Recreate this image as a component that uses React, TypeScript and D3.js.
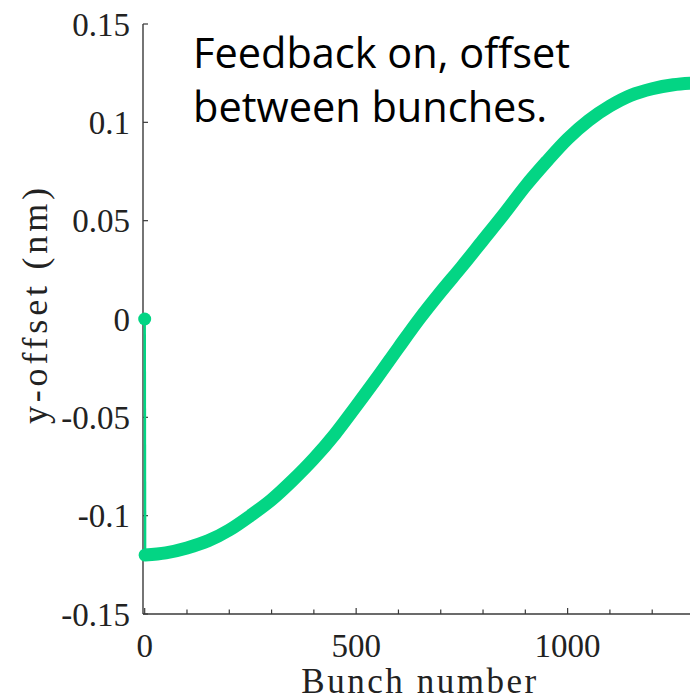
import React from "react";
import * as d3 from "d3";

// Bunch index along the train and the vertical offset of each bunch (nm)
const bunches = [0, 1, 50, 100, 150, 200, 250, 300, 350, 400, 450, 500, 550, 600, 650, 700, 750, 800, 850, 900, 950, 1000, 1050, 1100, 1150, 1200, 1250, 1300];
const offsets = [0, -0.12, -0.1189, -0.1164, -0.1128, -0.1073, -0.1, -0.0919, -0.082, -0.071, -0.0585, -0.0443, -0.0297, -0.0146, 0.0002, 0.0138, 0.0267, 0.0401, 0.0535, 0.0675, 0.08, 0.0916, 0.101, 0.1083, 0.1138, 0.1171, 0.1191, 0.12];

const yTicks = [-0.15, -0.1, -0.05, 0, 0.05, 0.1, 0.15];
const yTickLabels = ["-0.15", "-0.1", "-0.05", "0", "0.05", "0.1", "0.15"];
const xMajorTicks = [0, 500, 1000];
const xMinorTicks = [100, 200, 300, 400, 600, 700, 800, 900, 1100, 1200];

const xLabel = "Bunch number";
const yLabel = "y-offset (nm)";
const noteLines = ["Feedback on, offset", "between bunches."];

const W = 690;
const H = 700;
const GREEN = "#03d584";
const AXIS = "#3a3a3a";
const MATH_FONT = "'Liberation Serif', 'DejaVu Serif', serif";

export default function App() {
  // x range starts a few bunches below zero so the first marker sits just inside the box
  const x = d3.scaleLinear().domain([-4, 1300]).range([143, 694.5]);
  const y = d3.scaleLinear().domain([-0.15, 0.15]).range([614, 24]);

  const pts = bunches.map((b, i) => [b, offsets[i]] as [number, number]);

  const line = d3
    .line<[number, number]>()
    .x((d) => x(d[0]))
    .y((d) => y(d[1]));

  const smooth = d3
    .line<[number, number]>()
    .x((d) => x(d[0]))
    .y((d) => y(d[1]))
    .curve(d3.curveMonotoneX);

  // markers are packed so tightly after the first bunch that they merge into a band
  const band = pts.slice(1);

  const xLeft = x(-4);
  const yBase = y(-0.15);

  return (
    <svg
      width={W}
      height={H}
      style={{ position: "absolute", left: 0, top: 0, background: "#fff" }}
    >
      {/* axes */}
      <line x1={xLeft} x2={xLeft} y1={y(0.15)} y2={yBase} stroke={AXIS} strokeWidth={1.4} />
      <line x1={xLeft} x2={W + 10} y1={yBase} y2={yBase} stroke={AXIS} strokeWidth={1.4} />

      {yTicks.map((t, i) => (
        <g key={`yt${i}`}>
          <line x1={xLeft} x2={xLeft + 5} y1={y(t)} y2={y(t)} stroke={AXIS} strokeWidth={1.2} />
          <text
            x={130}
            y={y(t)}
            dy="0.35em"
            textAnchor="end"
            fontFamily={MATH_FONT}
            fontSize={33}
            fill="#222"
          >
            {yTickLabels[i]}
          </text>
        </g>
      ))}

      {xMajorTicks.map((t) => (
        <g key={`xt${t}`}>
          <line x1={x(t)} x2={x(t)} y1={yBase} y2={yBase - 6} stroke={AXIS} strokeWidth={1.2} />
          <text
            x={x(t)}
            y={657}
            textAnchor="middle"
            fontFamily={MATH_FONT}
            fontSize={33}
            fill="#222"
          >
            {t}
          </text>
        </g>
      ))}
      {xMinorTicks.map((t) => (
        <line key={`xm${t}`} x1={x(t)} x2={x(t)} y1={yBase} y2={yBase - 4.5} stroke={AXIS} strokeWidth={1.2} />
      ))}

      {/* connecting line */}
      <path d={line(pts.slice(0, 2)) ?? ""} fill="none" stroke={GREEN} strokeWidth={2.5} />
      {/* marker band */}
      <path
        d={smooth(band) ?? ""}
        fill="none"
        stroke={GREEN}
        strokeWidth={13}
        strokeLinecap="round"
        strokeLinejoin="round"
      />
      <circle cx={x(bunches[0])} cy={y(offsets[0])} r={6.5} fill={GREEN} />

      <text
        x={(xLeft + x(1300)) / 2}
        y={693}
        textAnchor="middle"
        fontFamily={MATH_FONT}
        fontSize={35}
        textLength={235}
        lengthAdjust="spacing"
        fill="#222"
      >
        {xLabel}
      </text>
      <text
        transform={`translate(47, 306) rotate(-90)`}
        textAnchor="middle"
        fontFamily={MATH_FONT}
        fontSize={36}
        textLength={236}
        lengthAdjust="spacing"
        fill="#222"
      >
        {yLabel}
      </text>

      {noteLines.map((s, i) => (
        <text
          key={`n${i}`}
          x={193}
          y={68 + i * 54}
          fontFamily="'Open Sans', 'Noto Sans', sans-serif"
          fontSize={41.5}
          fill="#000"
        >
          {s}
        </text>
      ))}
    </svg>
  );
}
